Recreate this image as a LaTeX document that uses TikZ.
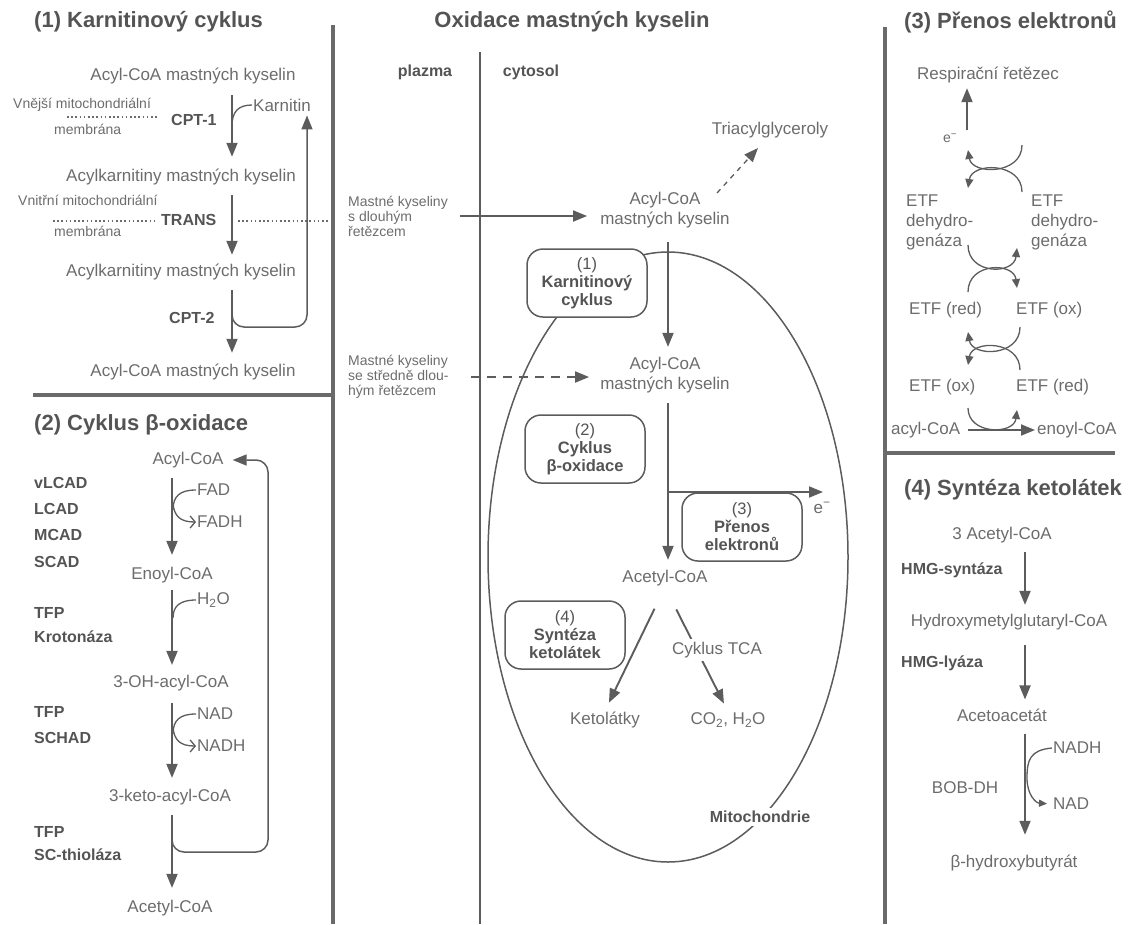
\documentclass[tikz,border=0pt]{standalone}
\usepackage{fontspec}
\setmainfont{Liberation Sans}
\usetikzlibrary{arrows.meta,shapes.geometric}
\definecolor{txtc}{HTML}{6C6C6C}
\definecolor{darkc}{HTML}{545454}
\definecolor{linec}{HTML}{5C5C5C}
\definecolor{barc}{HTML}{6A6A6A}

\begin{document}
\begin{tikzpicture}[x=1pt, y=-1pt,
    lbl/.style={text=txtc, inner sep=1pt, align=center, font=\fontsize{17}{20}\selectfont},
    sml/.style={text=txtc, inner sep=1pt, align=left, font=\fontsize{14}{15}\selectfont},
    enz/.style={text=darkc, inner sep=1pt, font=\fontsize{16}{20}\selectfont\bfseries},
    ttl/.style={text=darkc, inner sep=1pt, font=\fontsize{22}{26}\selectfont\bfseries},
    box/.style={draw=linec, line width=1.5pt, rounded corners=16pt, fill=white, text=darkc, minimum width=120pt, minimum height=68pt, inner sep=2pt, align=center, font=\fontsize{16.5}{18}\selectfont},
    arr/.style={draw=linec, line width=1.9pt, -{Triangle[length=14pt,width=11pt]}},
    carr/.style={draw=linec, line width=1.3pt, -{Triangle[length=9pt,width=8pt]}},
    hk/.style={draw=linec, line width=1.3pt},
    barb/.style={-{Straight Barb[length=5pt,width=12pt]}},
    dts/.style={draw=txtc, line width=1.6pt, dash pattern=on 1.6pt off 2.6pt},
    frame/.style={draw=barc, line width=4.5pt}]

    \useasboundingbox (0,0) rectangle (1143,924);

    \draw[frame] (333,25) -- (333,924);
    \draw[frame] (885,27) -- (885,924);
    \draw[frame] (33,395) -- (333,395);
    \draw[frame] (885,453) -- (1115,453);

    \node[ttl, anchor=west] (t1) at (33,22) {(1) Karnitinový cyklus};
    \node[lbl] (acyl1) at (193,76) {Acyl-CoA mastných kyselin};
    \node[lbl] (akar1) at (181,177) {Acylkarnitiny mastných kyselin};
    \node[lbl] (akar2) at (181,272) {Acylkarnitiny mastných kyselin};
    \node[lbl] (acyl2) at (193,372) {Acyl-CoA mastných kyselin};
    \node[lbl, anchor=west] (karn) at (252,105) {Karnitin};
    \node[enz, anchor=west] (cpt1) at (170,120) {CPT-1};
    \node[enz, anchor=west] (trans) at (160,220) {TRANS};
    \node[enz, anchor=west] (cpt2) at (168,318) {CPT-2};
    \node[sml, anchor=west] (vnej) at (12,105) {Vnější mitochondriální};
    \node[sml, anchor=west] (mem1) at (53,129) {membrána};
    \node[sml, anchor=west] (vnit) at (17,200) {Vnitřní mitochondriální};
    \node[sml, anchor=west] (mem2) at (53,231) {membrána};

    \coordinate (ax1) at (232,0);
    \coordinate (kj) at (232,126);
    \coordinate (lp1) at (232,298);
    \coordinate (lp2) at (307,327);
    \coordinate (d1a) at (67,117);
    \coordinate (d1b) at (157,117);
    \coordinate (d2a) at (53,221);
    \coordinate (d2b) at (157,221);
    \coordinate (d2c) at (238,221);
    \coordinate (d2d) at (330,221);

    \draw[dts] (d1a) -- (d1b);
    \draw[dts] (d2a) -- (d2b);
    \draw[dts] (d2c) -- (d2d);
    \draw[arr, shorten <=10pt, shorten >=11pt] (acyl1.south -| ax1) -- (akar1.north -| ax1);
    \draw[arr, shorten <=9pt, shorten >=8pt] (akar1.south -| ax1) -- (akar2.north -| ax1);
    \draw[arr, shorten <=9pt, shorten >=10pt] (akar2.south -| ax1) -- (acyl2.north -| ax1);
    \draw[hk] (karn.west) .. controls (238,105) and (232,112) .. (kj);
    \draw[arr, line width=1.5pt, rounded corners=12pt, shorten >=3pt] (lp1) |- (lp2) -- (karn.south -| lp2);

    \node[ttl, anchor=west] (t2) at (33,425) {(2) Cyklus β-oxidace};
    \node[lbl] (bacyl) at (188,460) {Acyl-CoA};
    \node[lbl] (benoyl) at (172,575) {Enoyl-CoA};
    \node[lbl] (boh) at (171,683) {3-OH-acyl-CoA};
    \node[lbl] (bketo) at (170,797) {3-keto-acyl-CoA};
    \node[lbl] (bacet) at (170,908) {Acetyl-CoA};
    \node[enz, anchor=west] (vlcad) at (33,483) {vLCAD};
    \node[enz, anchor=west] (lcad) at (33,509) {LCAD};
    \node[enz, anchor=west] (mcad) at (33,535) {MCAD};
    \node[enz, anchor=west] (scad) at (33,562) {SCAD};
    \node[enz, anchor=west] (tfp1) at (33,613) {TFP};
    \node[enz, anchor=west] (krot) at (33,637) {Krotonáza};
    \node[enz, anchor=west] (tfp2) at (33,712) {TFP};
    \node[enz, anchor=west] (schad) at (33,738) {SCHAD};
    \node[enz, anchor=west] (tfp3) at (33,832) {TFP};
    \node[enz, anchor=west] (scth) at (33,855) {SC-thioláza};
    \node[lbl, anchor=west] (fad) at (196,490) {FAD};
    \node[lbl, anchor=west] (fadh) at (196,522) {FADH};
    \node[lbl, anchor=west] (h2o) at (196,600) {H\textsubscript{2}O};
    \node[lbl, anchor=west] (nad1) at (196,714) {NAD};
    \node[lbl, anchor=west] (nadh1) at (196,746) {NADH};

    \coordinate (ax2) at (172,0);
    \coordinate (hf1) at (173,510);
    \coordinate (hf2) at (173,503);
    \coordinate (hw) at (173,618);
    \coordinate (hn1) at (173,734);
    \coordinate (hn2) at (173,727);
    \coordinate (lp3) at (172,822);
    \coordinate (lp4) at (268,852);

    \draw[arr, shorten <=9pt, shorten >=11pt] (bacyl.south -| ax2) -- (benoyl.north -| ax2);
    \draw[arr, shorten <=6pt, shorten >=9pt] (benoyl.south -| ax2) -- (boh.north -| ax2);
    \draw[arr, shorten <=11pt, shorten >=10pt] (boh.south -| ax2) -- (bketo.north -| ax2);
    \draw[arr, shorten <=9pt, shorten >=11pt] (bketo.south -| ax2) -- (bacet.north -| ax2);
    \draw[hk] (fad.west) .. controls (180,490) and (173,496) .. (hf1);
    \draw[hk, barb] (hf2) .. controls (174,516) and (180,522) .. (fadh.west);
    \draw[hk] (h2o.west) .. controls (180,600) and (173,606) .. (hw);
    \draw[hk] (nad1.west) .. controls (180,714) and (173,720) .. (hn1);
    \draw[hk, barb] (hn2) .. controls (174,740) and (180,746) .. (nadh1.west);
    \draw[arr, line width=1.5pt, rounded corners=12pt, shorten >=8pt] (lp3) |- (lp4) |- (bacyl.east);

    \node[ttl] (t0) at (572,22) {Oxidace mastných kyselin};
    \node[enz] (plazma) at (425,72) {plazma};
    \node[enz] (cyto) at (531,72) {cytosol};
    \node[draw=linec, line width=1.5pt, ellipse, minimum width=360pt, minimum height=610pt, inner sep=0pt] (mito) at (668,557) {};
    \node[lbl] (tag) at (770,130) {Triacylglyceroly};
    \node[lbl] (cacyl1) at (665,210) {Acyl-CoA\\mastných kyselin};
    \node[lbl] (cacyl2) at (665,375) {Acyl-CoA\\mastných kyselin};
    \node[lbl] (cacet) at (665,578) {Acetyl-CoA};
    \node[lbl] (keto) at (605,720) {Ketolátky};
    \node[lbl] (co2) at (728,720) {CO\textsubscript{2}, H\textsubscript{2}O};
    \node[lbl] (eminus) at (822,508) {e\textsuperscript{−}};
    \node[sml, anchor=west] (mk1) at (347,216) {Mastné kyseliny\\s dlouhým\\řetězcem};
    \node[sml, anchor=west] (mk2) at (347,377) {Mastné kyseliny\\se středně dlou-\\hým řetězcem};

    \coordinate (pm1) at (480,52);
    \coordinate (pm2) at (480,924);
    \coordinate (ax0) at (668,0);
    \coordinate (tg1) at (717,193);
    \coordinate (tg2) at (758,148);
    \coordinate (br) at (668,492);
    \coordinate (eout) at (823,492);

    \draw[draw=linec, line width=1.4pt] (pm1) -- (pm2);
    \draw[arr, shorten <=11pt, shorten >=12pt] (mk1.east) -- (mk1.east -| cacyl1.west);
    \draw[arr, dash pattern=on 9pt off 7pt, shorten <=21pt, shorten >=10pt] (mk2.east) -- (mk2.east -| cacyl2.west);
    \draw[arr, line width=1.3pt, dash pattern=on 5pt off 5pt] (tg1) -- (tg2);
    \draw[arr, shorten <=13pt, shorten >=9pt] (cacyl1.south -| ax0) -- (cacyl2.north -| ax0);
    \draw[arr, shorten <=9pt, shorten >=9pt] (cacyl2.south -| ax0) -- (cacet.north -| ax0);
    \draw[arr] (br) -- (eout);
    \draw[arr, shorten <=24pt, shorten >=9pt] (cacet.south) -- (keto.north);
    \draw[arr, shorten <=25pt, shorten >=9pt] (cacet.south) -- (co2.north);
    \node[lbl, fill=white, inner sep=3pt] (tca) at (717,650) {Cyklus TCA};
    \node[enz, fill=white, inner sep=3pt] (mitol) at (760,817) {Mitochondrie};

    \node[box] (b1) at (587,283) {(1)\\\textbf{Karnitinový}\\\textbf{cyklus}};
    \node[box] (b2) at (585,449) {(2)\\\textbf{Cyklus}\\\textbf{β-oxidace}};
    \node[box] (b3) at (742,527) {(3)\\\textbf{Přenos}\\\textbf{elektronů}};
    \node[box] (b4) at (565,635) {(4)\\\textbf{Syntéza}\\\textbf{ketolátek}};

    \node[ttl, anchor=west] (t3) at (903,22) {(3) Přenos elektronů};
    \node[lbl] (resp) at (988,75) {Respirační řetězec};
    \node[sml] (e3) at (950,138) {e\textsuperscript{−}};
    \node[lbl, align=left, anchor=west] (etfd1) at (905,222) {ETF\\dehydro-\\genáza};
    \node[lbl, align=left, anchor=west] (etfd2) at (1030,222) {ETF\\dehydro-\\genáza};
    \node[lbl, anchor=west] (etfr1) at (908,310) {ETF (red)};
    \node[lbl, anchor=west] (etfo1) at (1015,310) {ETF (ox)};
    \node[lbl, anchor=west] (etfo2) at (908,387) {ETF (ox)};
    \node[lbl, anchor=west] (etfr2) at (1015,387) {ETF (red)};
    \node[lbl, anchor=west] (acyl3) at (890,430) {acyl-CoA};
    \node[lbl, anchor=west] (enoyl3) at (1036,430) {enoyl-CoA};

    \coordinate (eup) at (967,130);
    \coordinate (u1a) at (1022,145);
    \coordinate (u1b) at (968,150);
    \coordinate (n1a) at (1022,192);
    \coordinate (n1b) at (968,188);
    \coordinate (u2a) at (968,245);
    \coordinate (u2b) at (1017,248);
    \coordinate (n2a) at (968,292);
    \coordinate (n2b) at (1017,288);
    \coordinate (u3a) at (1020,327);
    \coordinate (u3b) at (968,332);
    \coordinate (n3a) at (1020,370);
    \coordinate (n3b) at (968,365);
    \coordinate (u4a) at (968,408);
    \coordinate (u4b) at (1017,410);

    \draw[arr, shorten >=4pt] (eup) -- (resp.south -| eup);
    \draw[carr] (u1a) .. controls (1022,175) and (972,175) .. (u1b);
    \draw[carr] (n1a) .. controls (1022,162) and (972,162) .. (n1b);
    \draw[carr] (u2a) .. controls (968,275) and (1014,275) .. (u2b);
    \draw[carr] (n2a) .. controls (968,262) and (1014,262) .. (n2b);
    \draw[carr] (u3a) .. controls (1020,357) and (972,357) .. (u3b);
    \draw[carr] (n3a) .. controls (1020,340) and (972,340) .. (n3b);
    \draw[carr] (u4a) .. controls (968,435) and (1014,435) .. (u4b);
    \draw[arr, shorten <=7pt, shorten >=1pt] (acyl3.east) -- (enoyl3.west);

    \node[ttl, anchor=west] (t4) at (903,490) {(4) Syntéza ketolátek};
    \node[lbl] (acet3) at (1002,535) {3 Acetyl-CoA};
    \node[enz, anchor=west] (hmgs) at (900,570) {HMG-syntáza};
    \node[lbl] (hmg) at (1009,622) {Hydroxymetylglutaryl-CoA};
    \node[enz, anchor=west] (hmgl) at (900,663) {HMG-lyáza};
    \node[lbl] (aceto) at (1002,715) {Acetoacetát};
    \node[lbl] (bobdh) at (965,788) {BOB-DH};
    \node[lbl, anchor=west] (nadh2) at (1052,748) {NADH};
    \node[lbl, anchor=west] (nad2) at (1052,804) {NAD};
    \node[lbl] (bhb) at (1014,863) {β-hydroxybutyrát};

    \coordinate (ax4) at (1025,0);

    \draw[arr, shorten <=8pt, shorten >=8pt] (acet3.south -| ax4) -- (hmg.north -| ax4);
    \draw[arr, shorten <=14pt, shorten >=8pt] (hmg.south -| ax4) -- (aceto.north -| ax4);
    \draw[arr, shorten <=11pt, shorten >=19pt] (aceto.south -| ax4) -- (bhb.north -| ax4);
    \draw[hk, -{Triangle[length=8pt,width=7pt]}, shorten >=5pt] (nadh2.west) .. controls (1030,750) and (1027,760) .. (1027,778) .. controls (1027,795) and (1036,803) .. (nad2.west);
\end{tikzpicture}
\end{document}
